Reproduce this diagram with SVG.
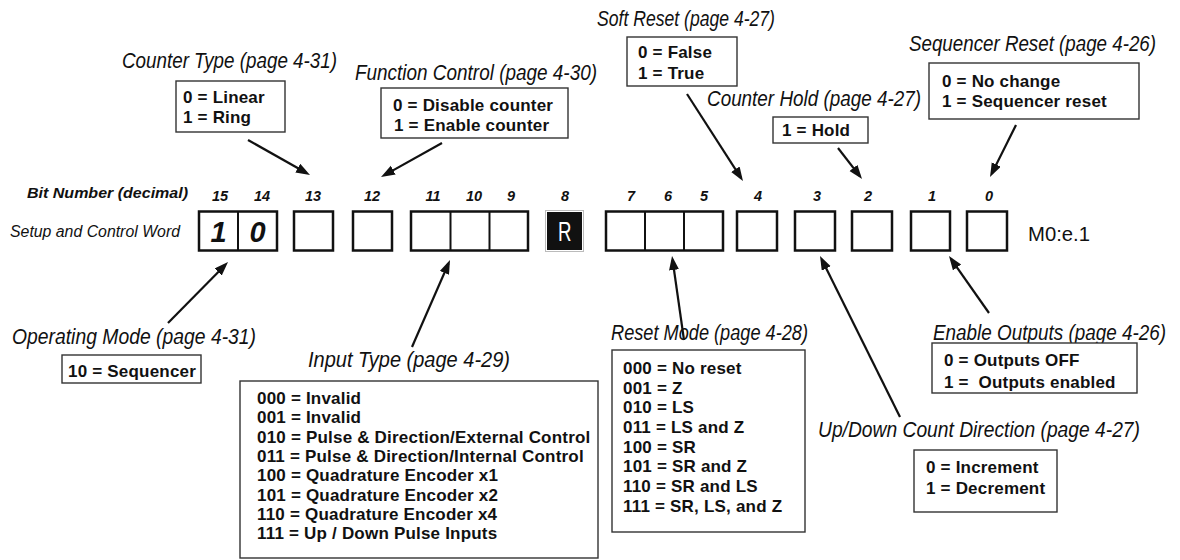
<svg xmlns="http://www.w3.org/2000/svg" width="1180" height="560" viewBox="0 0 1180 560">
<style>
.t{font-family:"Liberation Sans",Arial,sans-serif;font-style:italic;font-size:22px;fill:#111}
.b{font-family:"Liberation Sans",Arial,sans-serif;font-weight:bold;font-size:17px;fill:#111;white-space:pre;letter-spacing:0.2px}
.box{fill:#fff;stroke:#333;stroke-width:1.4}
.bit{fill:#fff;stroke:#111;stroke-width:2.5}
.num{font-family:"Liberation Sans",Arial,sans-serif;font-weight:bold;font-style:italic;font-size:14.5px;fill:#111;text-anchor:middle}
.big{font-family:"Liberation Sans",Arial,sans-serif;font-weight:bold;font-style:italic;font-size:29px;fill:#111;text-anchor:middle}
.div{stroke:#111;stroke-width:2}
.conn line{stroke:#111;stroke-width:2.2;marker-end:url(#ah)}
</style>
<defs>
<marker id="ah" markerUnits="userSpaceOnUse" markerWidth="15" markerHeight="11" refX="10" refY="5" orient="auto">
<path d="M0,0 L14,5 L0,10 z" fill="#111"/>
</marker>
</defs>
<rect width="1180" height="560" fill="#fff"/>

<g id="register">
<text x="27" y="198" class="num" style="text-anchor:start;font-size:15px" textLength="161" lengthAdjust="spacingAndGlyphs">Bit Number (decimal)</text>
<text x="10" y="237" style="font-family:'Liberation Sans',Arial,sans-serif;font-style:italic;font-size:16px;fill:#111" textLength="170" lengthAdjust="spacingAndGlyphs">Setup and Control Word</text>
<g>
<text x="220" y="201" class="num">15</text>
<text x="262" y="201" class="num">14</text>
<text x="313" y="201" class="num">13</text>
<text x="372" y="201" class="num">12</text>
<text x="433" y="201" class="num">11</text>
<text x="474" y="201" class="num">10</text>
<text x="511" y="201" class="num">9</text>
<text x="565" y="201" class="num">8</text>
<text x="631" y="201" class="num">7</text>
<text x="668" y="201" class="num">6</text>
<text x="704" y="201" class="num">5</text>
<text x="758" y="201" class="num">4</text>
<text x="817" y="201" class="num">3</text>
<text x="868" y="201" class="num">2</text>
<text x="932" y="201" class="num">1</text>
<text x="989" y="201" class="num">0</text>
</g>
<rect x="199" y="211.5" width="78" height="39" class="bit"/>
<line x1="238" y1="211.5" x2="238" y2="250.5" class="div"/>
<text x="218.5" y="242" class="big">1</text>
<text x="257.5" y="242" class="big">0</text>
<rect x="294" y="211.5" width="39" height="39" class="bit"/>
<rect x="353" y="211.5" width="39" height="39" class="bit"/>
<rect x="411" y="211.5" width="117" height="39" class="bit"/>
<line x1="450.5" y1="211.5" x2="450.5" y2="250.5" class="div"/>
<line x1="489.5" y1="211.5" x2="489.5" y2="250.5" class="div"/>
<rect x="545.5" y="210.5" width="38" height="41" fill="#fff" stroke="#bbb" stroke-width="1"/>
<rect x="547" y="212" width="35" height="38" fill="#111"/>
<text x="558" y="240.5" style="font-family:'Liberation Sans',Arial,sans-serif;font-size:28px;fill:#fff" textLength="13.5" lengthAdjust="spacingAndGlyphs">R</text>
<rect x="606" y="211.5" width="117" height="39" class="bit"/>
<line x1="645" y1="211.5" x2="645" y2="250.5" class="div"/>
<line x1="684" y1="211.5" x2="684" y2="250.5" class="div"/>
<rect x="737" y="211.5" width="40" height="39" class="bit"/>
<rect x="795" y="211.5" width="40" height="39" class="bit"/>
<rect x="852" y="211.5" width="40" height="39" class="bit"/>
<rect x="911" y="211.5" width="39" height="39" class="bit"/>
<rect x="967" y="211.5" width="40" height="39" class="bit"/>
<text x="1028" y="241" style="font-family:'Liberation Sans',Arial,sans-serif;font-size:20px;fill:#111" textLength="62" lengthAdjust="spacingAndGlyphs">M0:e.1</text>
</g>

<g id="counter-type">
<text transform="translate(122,68) scale(0.85,1)" class="t" textLength="252.9" lengthAdjust="spacingAndGlyphs">Counter Type (page 4-31)</text>
<rect x="176" y="81" width="109" height="51" class="box"/>
<text x="183" y="103.3" class="b">0 = Linear</text>
<text x="183" y="122.7" class="b">1 = Ring</text>
</g>

<g id="function-control">
<text transform="translate(355,80) scale(0.85,1)" class="t" textLength="284.7" lengthAdjust="spacingAndGlyphs">Function Control (page 4-30)</text>
<rect x="381" y="88" width="187" height="50" class="box"/>
<text x="393" y="110.7" class="b">0 = Disable counter</text>
<text x="394" y="131" class="b">1 = Enable counter</text>
</g>

<g id="soft-reset">
<text transform="translate(597,26) scale(0.85,1)" class="t" textLength="209.4" lengthAdjust="spacingAndGlyphs">Soft Reset (page 4-27)</text>
<rect x="627" y="37" width="110" height="49" class="box"/>
<text x="638" y="58.3" class="b">0 = False</text>
<text x="638" y="79" class="b">1 = True</text>
</g>

<g id="counter-hold">
<text transform="translate(707,106) scale(0.85,1)" class="t" textLength="251.8" lengthAdjust="spacingAndGlyphs">Counter Hold (page 4-27)</text>
<rect x="773" y="117" width="95" height="26" class="box"/>
<text x="782" y="136" class="b">1 = Hold</text>
</g>

<g id="sequencer-reset">
<text transform="translate(909,51) scale(0.85,1)" class="t" textLength="290.6" lengthAdjust="spacingAndGlyphs">Sequencer Reset (page 4-26)</text>
<rect x="929" y="63" width="210" height="56" class="box"/>
<text x="942" y="87.3" class="b">0 = No change</text>
<text x="942" y="107.3" class="b">1 = Sequencer reset</text>
</g>

<g id="operating-mode">
<text transform="translate(12,344) scale(0.85,1)" class="t" textLength="287.1" lengthAdjust="spacingAndGlyphs">Operating Mode (page 4-31)</text>
<rect x="62" y="355" width="139" height="28" class="box"/>
<text x="68" y="376.7" class="b">10 = Sequencer</text>
</g>

<g id="input-type">
<text transform="translate(308,366.7) scale(0.85,1)" class="t" textLength="237.6" lengthAdjust="spacingAndGlyphs">Input Type (page 4-29)</text>
<rect x="240" y="381" width="358" height="177" class="box"/>
<text x="257" y="404" class="b">000 = Invalid</text>
<text x="257" y="423.3" class="b">001 = Invalid</text>
<text x="257" y="442.7" class="b">010 = Pulse &amp; Direction/External Control</text>
<text x="257" y="462" class="b">011 = Pulse &amp; Direction/Internal Control</text>
<text x="257" y="481.3" class="b">100 = Quadrature Encoder x1</text>
<text x="257" y="500.7" class="b">101 = Quadrature Encoder x2</text>
<text x="257" y="520" class="b">110 = Quadrature Encoder x4</text>
<text x="257" y="539.3" class="b">111 = Up / Down Pulse Inputs</text>
</g>

<g id="reset-mode">
<text transform="translate(611,340) scale(0.85,1)" class="t" textLength="231.8" lengthAdjust="spacingAndGlyphs">Reset Mode (page 4-28)</text>
<rect x="612" y="350" width="193" height="182" class="box"/>
<text x="623" y="374" class="b">000 = No reset</text>
<text x="623" y="393.7" class="b">001 = Z</text>
<text x="623" y="413.3" class="b">010 = LS</text>
<text x="623" y="433" class="b">011 = LS and Z</text>
<text x="623" y="452.7" class="b">100 = SR</text>
<text x="623" y="472.3" class="b">101 = SR and Z</text>
<text x="623" y="492" class="b">110 = SR and LS</text>
<text x="623" y="511.7" class="b">111 = SR, LS, and Z</text>
</g>

<g id="enable-outputs">
<text transform="translate(933,340) scale(0.85,1)" class="t" textLength="274.1" lengthAdjust="spacingAndGlyphs">Enable Outputs (page 4-26)</text>
<rect x="932" y="343" width="205" height="50" class="box"/>
<text x="944" y="366" class="b">0 = Outputs OFF</text>
<text x="944" y="387.7" class="b">1 =  Outputs enabled</text>
</g>

<g id="count-direction">
<text transform="translate(818,436.7) scale(0.85,1)" class="t" textLength="378.8" lengthAdjust="spacingAndGlyphs">Up/Down Count Direction (page 4-27)</text>
<rect x="914" y="450" width="143" height="62" class="box"/>
<text x="926" y="473.3" class="b">0 = Increment</text>
<text x="926" y="494" class="b">1 = Decrement</text>
</g>

<g id="connectors" class="conn">
<line x1="248" y1="140" x2="306.5" y2="173"/>
<line x1="442" y1="143" x2="384.5" y2="175.1"/>
<line x1="687" y1="94" x2="740.8" y2="177.6"/>
<line x1="838" y1="148" x2="859.6" y2="175.8"/>
<line x1="1016" y1="125" x2="991.8" y2="173.4"/>
<line x1="168" y1="323" x2="225.2" y2="264.9"/>
<line x1="412" y1="347" x2="448.4" y2="263.7"/>
<line x1="684" y1="340" x2="672.6" y2="260"/>
<line x1="900" y1="417" x2="821.8" y2="259.6"/>
<line x1="989" y1="313" x2="951.3" y2="259.3"/>
</g>
</svg>
